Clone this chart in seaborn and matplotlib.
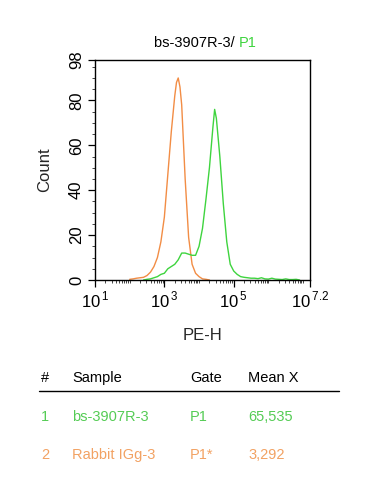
import matplotlib
matplotlib.use("Agg")
import matplotlib.pyplot as plt
import seaborn as sns
import pandas as pd
import numpy as np
from matplotlib.ticker import FixedLocator, NullFormatter

# histogram: log10(PE-H) bin centres and counts
igg_log = [2.0, 2.1, 2.2, 2.3, 2.4, 2.5, 2.6, 2.7, 2.8, 2.9, 3.0, 3.1, 3.2, 3.3,
           3.35, 3.4, 3.45, 3.5, 3.6, 3.7, 3.8, 3.9, 4.0, 4.1, 4.2, 4.3]
igg_count = [0.3, 0.5, 0.8, 1.0, 1.2, 2.0, 3.5, 6.0, 10, 17, 28, 47, 66, 82,
             88, 90, 86, 78, 45, 19, 7, 3, 1.5, 0.5, 0.3, 0]

ab_log = [2.4, 2.5, 2.6, 2.7, 2.8, 2.9, 3.0, 3.1, 3.2, 3.3, 3.4, 3.5, 3.6, 3.7,
          3.8, 3.9, 4.0, 4.1, 4.2, 4.3, 4.4, 4.45, 4.5, 4.6, 4.7, 4.8, 4.9, 5.0,
          5.1, 5.2, 5.3, 5.4, 5.5, 5.6, 5.7, 5.8, 5.9, 6.0, 6.1, 6.2, 6.3, 6.4,
          6.5, 6.6, 6.7, 6.8, 6.9]
ab_count = [0, 0.3, 0.5, 1.0, 1.5, 2.5, 3, 5, 6, 7, 9, 12, 12, 11.5,
            11, 11, 15, 23, 36, 50, 68, 76, 72, 55, 34, 17, 7, 4,
            2.5, 1.5, 1.2, 1.0, 0.8, 0.8, 0.6, 1.0, 0.5, 0.4, 0.8, 0.4, 0.3, 0.2,
            0.5, 0.2, 0.2, 0.3, 0]

green = "#3ed43e"
orange = "#f28d45"
green_txt = "#55cc55"
orange_txt = "#f2a263"

tbl_header = ["#", "Sample", "Gate", "Mean X"]
tbl_rows = [["1", "bs-3907R-3", "P1", "65,535"],
            ["2", "Rabbit IGg-3", "P1*", "3,292"]]
tbl_colors = [green_txt, orange_txt]
tbl_x = [41, 72, 190, 248]

sns.set_theme(style="ticks")
plt.rcParams['font.family'] = ['Liberation Sans', 'DejaVu Sans']
plt.rcParams['mathtext.fontset'] = 'custom'
plt.rcParams['mathtext.rm'] = 'Liberation Sans'

df = pd.concat([
    pd.DataFrame({"x": np.power(10.0, igg_log), "count": igg_count, "s": "igg"}),
    pd.DataFrame({"x": np.power(10.0, ab_log), "count": ab_count, "s": "ab"}),
])

W, H = 385, 492
fig = plt.figure(figsize=(W / 100, H / 100), dpi=100)
ax = fig.add_axes([95 / W, 1 - 280 / H, 215 / W, 220 / H])

sns.lineplot(data=df[df.s == "igg"], x="x", y="count", color=orange, lw=1.0, ax=ax)
sns.lineplot(data=df[df.s == "ab"], x="x", y="count", color=green, lw=1.0, ax=ax)

ax.set_xscale("log")
ax.set_xlim(10, 10 ** 7.2)
ax.set_ylim(0, 98)

ax.xaxis.set_major_locator(FixedLocator([10, 1e3, 1e5, 10 ** 7.2]))
ax.set_xticklabels([r"$10^{\,1}$", r"$10^{\,3}$", r"$10^{\,5}$", r"$10^{\,7.2}$"])
minor = [m * 10.0 ** d for d in range(1, 8) for m in range(1, 10)
         if m * 10.0 ** d <= 10 ** 7.2]
ax.xaxis.set_minor_locator(FixedLocator(minor))
ax.xaxis.set_minor_formatter(NullFormatter())

ax.set_yticks([0, 20, 40, 60, 80, 98])
ax.set_yticks(np.arange(0, 98, 5), minor=True)
for lab in ax.get_yticklabels():
    lab.set_rotation(90)
    lab.set_va("center")

ax.tick_params(axis="both", which="major", direction="out", length=5, width=0.9,
               labelsize=12, colors="black", pad=2)
ax.tick_params(axis="both", which="minor", direction="out", length=2.5, width=0.6)
ax.tick_params(axis="y", pad=3)
for sp in ax.spines.values():
    sp.set_visible(True)
    sp.set_linewidth(1.0)
    sp.set_color("black")

ax.set_xlabel("PE-H", fontsize=12, labelpad=13)
ax.set_ylabel("Count", fontsize=12, labelpad=12)

# title in two colours
fig.text(239 / W, 1 - 43 / H, "bs-3907R-3/ ", ha="right", va="center",
         fontsize=10.5, color="black")
fig.text(239 / W, 1 - 43 / H, "P1", ha="left", va="center", fontsize=10.5, color=green)

# stats table below the plot
for x, h in zip(tbl_x, tbl_header):
    fig.text(x / W, 1 - 378 / H, h, ha="left", va="center", fontsize=10.5, color="black")
fig.add_artist(plt.Line2D([39 / W, 339 / W], [1 - 391 / H, 1 - 391 / H],
                          color="black", lw=1.0))
for row, col, yy in zip(tbl_rows, tbl_colors, [417, 455]):
    for x, v in zip(tbl_x, row):
        fig.text(x / W, 1 - yy / H, v, ha="left", va="center", fontsize=10.5, color=col)

fig.savefig("out.png", dpi=100)
